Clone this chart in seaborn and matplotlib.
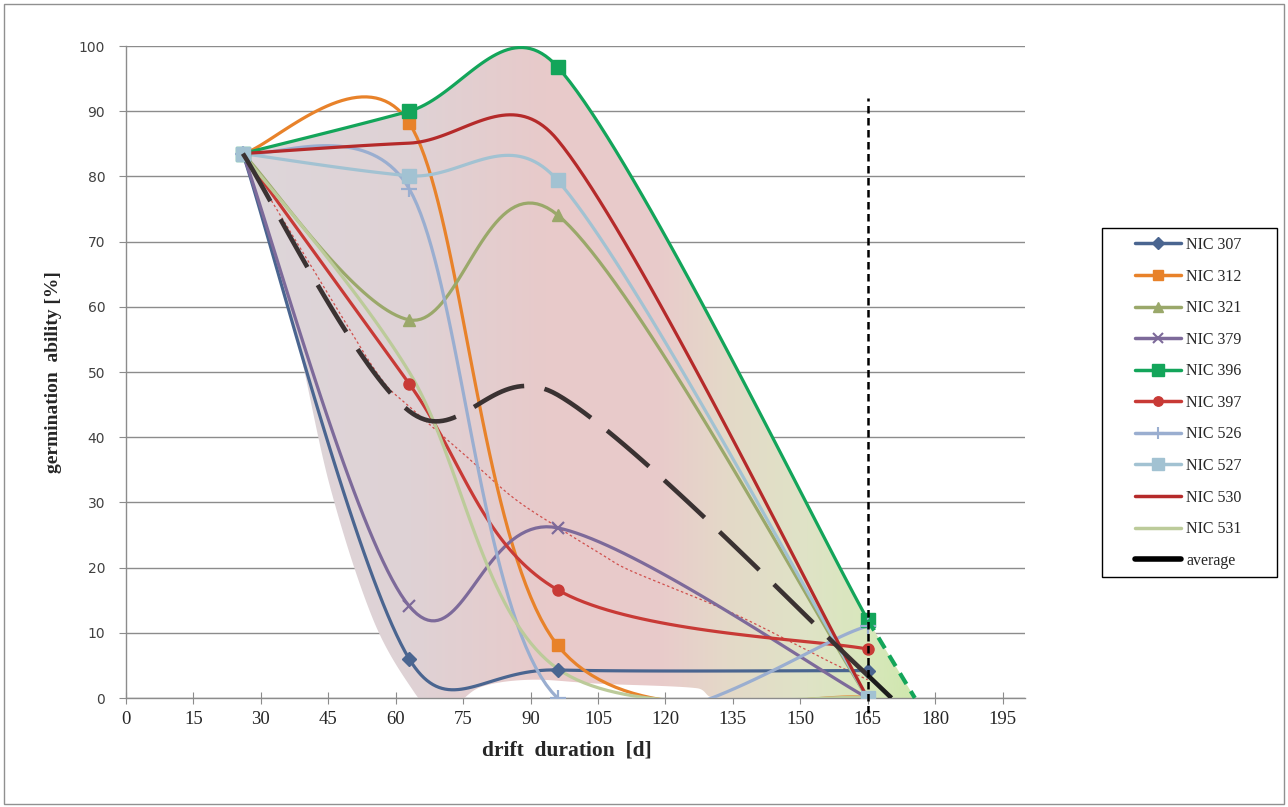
import numpy as np
import matplotlib
matplotlib.use('Agg')
import matplotlib.pyplot as plt
import seaborn as sns
from matplotlib.lines import Line2D
from matplotlib.patches import Polygon, Rectangle
from matplotlib.colors import LinearSegmentedColormap

# Data
days = [26, 63, 96, 165]
nic307 = [83.5, 6.0, 4.3, 4.2]
nic312 = [83.5, 88.2, 8.1, 0.0]
nic321 = [83.5, 58.0, 74.1, 0.0]
nic379 = [83.5, 14.1, 26.1, 0.0]
nic396 = [83.5, 90.0, 96.8, 12.0]
nic397 = [83.5, 48.2, 16.6, 7.5]
nic526 = [83.5, 78.1, 0.0, 11.0]
nic527 = [83.5, 80.1, 79.4, 0.0]
nic530 = [83.5, 85.1, 85.6, 0.0]
nic531 = [83.5, 50.0, 4.5, 0.0]
average = [83.5, 44.0, 46.5, 3.5]
avg_tail_x = [165, 170.3]
avg_tail_y = [3.5, 0.0]
ext396_x = [165, 175.5]
ext396_y = [12.0, 0.0]
trend_x = [26, 45.4, 56.5, 63.2, 75, 86, 96, 105.4, 112, 135, 157, 165]
trend_y = [83.5, 61.5, 49.2, 44.6, 37.5, 30.8, 26.2, 22.2, 19.6, 13.0, 5.4, 2.8]
# lower edge of the shaded band
band_low_x = [26, 37, 45.4, 55, 64, 68, 73, 79, 90, 105, 127, 131, 165]
band_low_y = [83.5, 58, 32.4, 12, 1.0, -1.5, -1.2, 1.7, 2.8, 2.2, 1.5, 0.0, 0.0]
cutoff_day = 165
cutoff_top = 92

xticks = list(range(0, 196, 15))
yticks = list(range(0, 101, 10))

# pixels per unit on each axis, used for the smoothing handles
PX_X = 899 / 200
PX_Y = 652 / 100


def excel_smooth(xs, ys, n=40):
    # bezier smoothing close to Excel's "smoothed line"
    pts = np.column_stack([np.asarray(xs, float) * PX_X, np.asarray(ys, float) * PX_Y])
    out = [pts[0]]
    t = np.linspace(0, 1, n)[1:, None]
    for i in range(len(pts) - 1):
        p0 = pts[i - 1] if i > 0 else pts[i]
        p1, p2 = pts[i], pts[i + 1]
        p3 = pts[i + 2] if i + 2 < len(pts) else pts[i + 1]
        d12 = np.hypot(*(p2 - p1))
        d02 = np.hypot(*(p2 - p0))
        d13 = np.hypot(*(p3 - p1))
        f1 = min(1 / 6, 0.5 * d12 / d02) if d02 > 0 else 0
        f2 = min(1 / 6, 0.5 * d12 / d13) if d13 > 0 else 0
        c1 = p1 + (p2 - p0) * f1
        c2 = p2 - (p3 - p1) * f2
        seg = (1 - t)**3 * p1 + 3 * (1 - t)**2 * t * c1 + 3 * (1 - t) * t**2 * c2 + t**3 * p2
        out.extend(seg)
    out = np.array(out)
    return out[:, 0] / PX_X, out[:, 1] / PX_Y


sns.set_style('white')
plt.rcParams['font.family'] = ['Liberation Serif', 'DejaVu Serif']

fig = plt.figure(figsize=(12.88, 8.07), dpi=100)
ax = fig.add_axes([126 / 1288, 1 - 698 / 807, 899 / 1288, 652 / 807])

# shaded band with horizontal gradient
ux, uy = excel_smooth(days, nic396)
lx, ly = excel_smooth(band_low_x, band_low_y)
poly_x = np.concatenate([ux, ext396_x[1:], [ext396_x[1]], lx[::-1]])
poly_y = np.concatenate([uy, ext396_y[1:], [ext396_y[1]], ly[::-1]])
band = Polygon(np.column_stack([poly_x, poly_y]), closed=True, facecolor='none', edgecolor='none')
ax.add_patch(band)
grad = LinearSegmentedColormap.from_list('band', [
    (0.0, '#ddd6da'), (0.25, '#dfd2d5'), (0.45, '#e8caca'), (0.62, '#e9cbcb'),
    (0.72, '#e4d9c8'), (0.84, '#dfe3c6'), (0.93, '#d8e7bc'), (1.0, '#cfe7ad')])
im = ax.imshow(np.linspace(0, 1, 256)[None, :], cmap=grad, aspect='auto',
               extent=[26, 175.5, -3, 100], origin='lower', zorder=1)
im.set_clip_path(band)
im.set_clip_box(None)

# thin red dotted trend
tx, ty = excel_smooth(trend_x, trend_y)
ax.plot(tx, ty, color='#d0504d', lw=0.9, ls=(0, (2, 2)), zorder=3)

series = [
    ('NIC 307', nic307, '#4a6590', 'D', 7),
    ('NIC 312', nic312, '#e8822a', 's', 9),
    ('NIC 321', nic321, '#9aa86a', '^', 9),
    ('NIC 379', nic379, '#7d6a9a', 'x', 9),
    ('NIC 396', nic396, '#13a55a', 's', 10),
    ('NIC 397', nic397, '#c83a36', 'o', 8),
    ('NIC 526', nic526, '#9aaed0', '+', 11),
    ('NIC 527', nic527, '#a2c2d2', 's', 10),
    ('NIC 530', nic530, '#b52a2a', None, 0),
    ('NIC 531', nic531, '#bccb9a', None, 0),
]

handles = []
for name, vals, col, mk, ms in series:
    cx, cy = excel_smooth(days, vals)
    sns.lineplot(x=cx, y=cy, sort=False, estimator=None, color=col, lw=2.3, ax=ax, zorder=4)
    if mk:
        ax.plot(days, vals, ls='none', marker=mk, ms=ms, color=col, mec=col,
                mew=1.6 if mk in ('x', '+') else 1, zorder=5)
    handles.append(Line2D([], [], color=col, lw=2.5, marker=mk, ms=ms * 0.85,
                          mew=1.5 if mk in ('x', '+') else 1, label=name))

# NIC 396 dashed extension
ax.plot(ext396_x, ext396_y, color='#13a55a', lw=3, ls=(0, (3, 2)), zorder=5, clip_on=False)

# average
axx, axy = excel_smooth(days, average)
ax.plot(axx, axy, color='#3a3232', lw=3.3, ls=(0, (12, 4.5)), zorder=6)
ax.plot(avg_tail_x, avg_tail_y, color='#1c1c1c', lw=3.3, zorder=6, solid_capstyle='butt')
handles.append(Line2D([], [], color='black', lw=4, label='average'))

# vertical cut-off line
ax.plot([cutoff_day, cutoff_day], [-2.3, cutoff_top], color='black', lw=1.8,
        ls=(0, (3, 1.8)), zorder=7, clip_on=False)

ax.set_xlim(0, 200)
ax.set_ylim(0, 100)
ax.set_xticks(xticks)
ax.set_yticks(yticks)
ax.set_xticklabels([str(v) for v in xticks], fontsize=13.5, family='Liberation Serif')
ax.set_yticklabels([str(v) for v in yticks], fontsize=10, family='DejaVu Sans', color='#404040')
ax.grid(axis='y', color='#8c8c8c', lw=1)
ax.grid(axis='x', visible=False)
ax.set_axisbelow(True)
for s in ['top', 'right']:
    ax.spines[s].set_visible(False)
for s in ['left', 'bottom']:
    ax.spines[s].set_color('#8c8c8c')
    ax.spines[s].set_linewidth(1)
ax.tick_params(axis='y', direction='out', length=5, color='#8c8c8c', pad=10, left=True)
ax.tick_params(axis='x', direction='inout', length=8, color='#8c8c8c', pad=5, bottom=True)

ax.set_xlabel('drift  duration  [d]', fontsize=15.5, fontweight='bold', labelpad=7)
ax.xaxis.set_label_coords(0.49, -0.065)
ax.set_ylabel('germination  ability [%]', fontsize=14, fontweight='bold', labelpad=12)

# legend box
fig.patches.append(Rectangle((1102 / 1288, 1 - 577 / 807), 175 / 1288, 349 / 807,
                             transform=fig.transFigure, fill=False, edgecolor='black', lw=1))
fig.legend(handles=handles, loc='upper left', bbox_to_anchor=(1135 / 1288, 1 - 237 / 807),
           frameon=False, fontsize=11.5, handlelength=2.9, handletextpad=0.3,
           labelspacing=0.975, borderpad=0, borderaxespad=0)

# outer border
fig.patches.append(Rectangle((4 / 1288, 3 / 807), 1280 / 1288, 800 / 807,
                             transform=fig.transFigure, fill=False, edgecolor='#909090', lw=1))

fig.savefig('out.png', dpi=100)
